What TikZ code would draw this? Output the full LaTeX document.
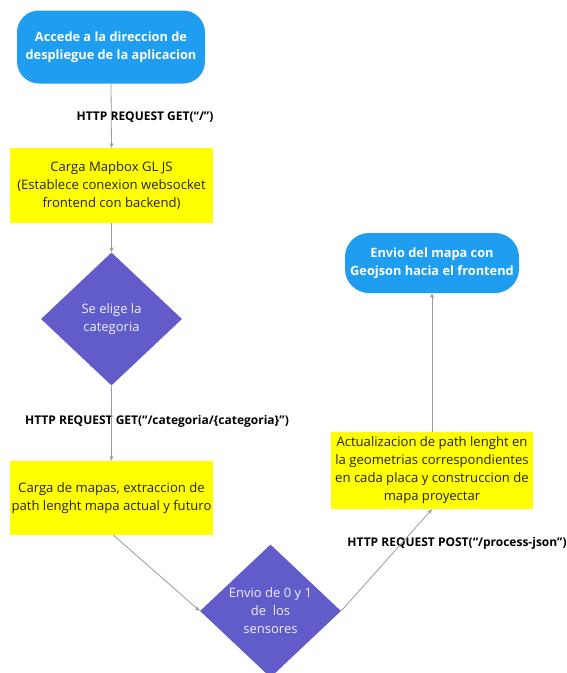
\documentclass[tikz,border=0pt]{standalone}
\usepackage{fontspec}
\setmainfont{Open Sans}
\usetikzlibrary{shapes.geometric,arrows.meta}
\definecolor{bluebox}{HTML}{1E9DF1}
\definecolor{purp}{HTML}{615CC9}
\definecolor{yel}{HTML}{FFFF00}
\definecolor{arr}{HTML}{9A9A9A}
\definecolor{txt}{HTML}{222222}
\tikzset{
  term/.style={rounded corners=22pt, fill=bluebox, text=white, font=\fontsize{12.8}{17.5}\selectfont\bfseries, align=center, inner sep=0pt},
  procbox/.style={fill=yel, text=txt, font=\fontsize{13.1}{18}\selectfont, align=center, inner sep=0pt},
  decis/.style={diamond, fill=purp, text=white!90!purp, font=\fontsize{13}{18}\selectfont, align=center, inner sep=0pt, minimum width=141pt, minimum height=133pt},
  lbl/.style={font=\fontsize{12}{14}\selectfont\bfseries, text=black},
  conn/.style={draw=arr, line width=0.8pt, -{Stealth[length=5pt,width=4pt]}}
}
\begin{document}
\begin{tikzpicture}[x=1pt,y=-1pt]
\useasboundingbox (0,0) rectangle (567,673);
\node[term, minimum width=188pt, minimum height=73pt] (start) at (111,47) {Accede a la direccion de\\despliegue de la aplicacion};
\node[procbox, minimum width=203pt, minimum height=75pt] (mapbox) at (111.5,185.5) {Carga Mapbox GL JS\\(Establece conexion websocket\\frontend con backend)};
\node[decis] (cat) at (111.5,319) {Se elige la\\categoria};
\node[procbox, minimum width=203pt, minimum height=74pt] (carga) at (111.5,498) {Carga de mapas, extraccion de\\path lenght mapa actual y futuro};
\node[decis] (env) at (270.5,611) {Envio de 0 y 1\\de\ \ los\\sensores};
\node[procbox, minimum width=202pt, minimum height=77pt] (act) at (432,470.5) {Actualizacion de path lenght en\\la geometrias correspondientes\\en cada placa y construccion de\\mapa proyectar};
\node[term, minimum width=174pt, minimum height=60pt, rounded corners=24pt] (fin) at (432,263) {Envio del mapa con\\Geojson hacia el frontend};

\node[lbl] (l1) at (145,117) {HTTP REQUEST GET(“/”)};
\node[lbl] (l2) at (157,421) {HTTP REQUEST GET(“/categoria/\{categoria\}”)};
\node[lbl] (l3) at (457,543) {HTTP REQUEST POST(“/process-json”)};

\draw[conn] (start.south) -- (mapbox.north);
\draw[conn] (mapbox.south) -- (cat.north);
\draw[conn] (cat.south) -- (carga.north);
\draw[conn] ([xshift=2pt]carga.south) -- (env.west);
\draw[conn] (env.east) -- (act.south);
\draw[conn] (act.north) -- (fin.south);
\end{tikzpicture}
\end{document}
